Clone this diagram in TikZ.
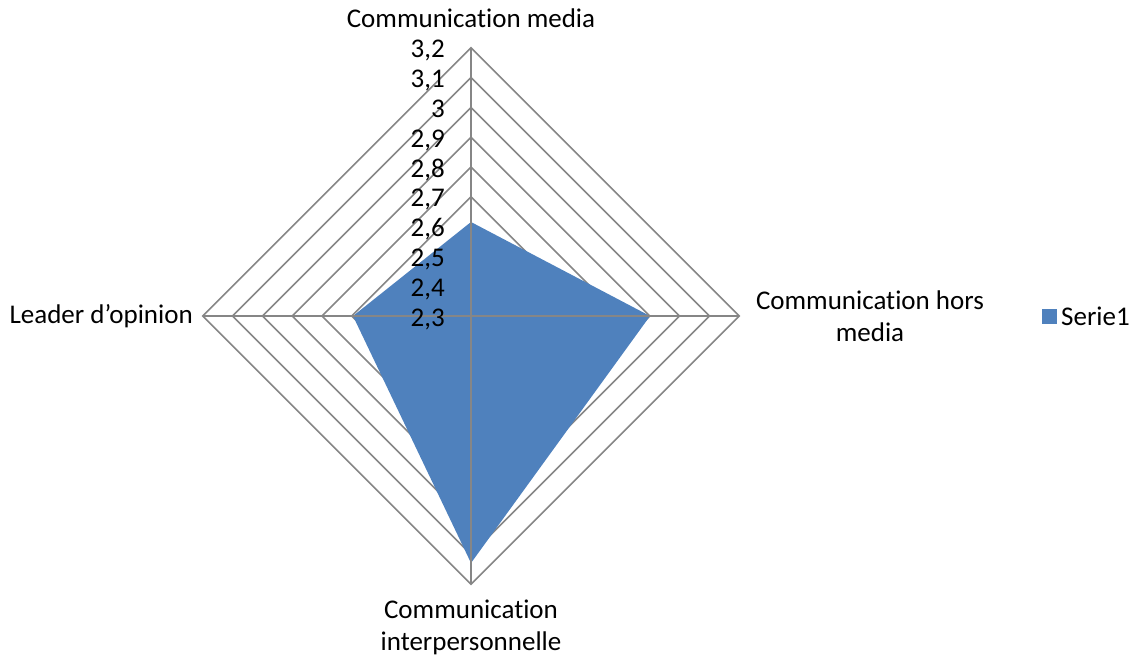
\documentclass[tikz,border=0pt]{standalone}
\usepackage{fontspec}
\setmainfont[Ligatures=CommonOff]{Carlito}
\definecolor{serieblue}{HTML}{4F81BD}
\definecolor{ringgray}{HTML}{868686}
\begin{document}
\begin{tikzpicture}[x=1pt, y=-1pt]
			\tikzstyle{ring}  = [draw=ringgray, line width=1.6pt, line join=miter]
			\tikzstyle{axislabel}  = [font=\fontsize{27}{32}\selectfont, align=center, inner sep=0pt]
			\tikzstyle{ticklabel}  = [font=\fontsize{27}{32}\selectfont, anchor=base east, inner sep=0pt]

			\useasboundingbox (0,0) rectangle (1139,661);

			\coordinate (c) at (471, 316);
			\coordinate (top) at (471, 48);
			\coordinate (right) at (739, 316);
			\coordinate (bottom) at (471, 584);
			\coordinate (left) at (203, 316);

			% rings 2,4 ... 3,2
			\foreach \r in {1,...,9}
				\draw[ring] (471, {316-\r*29.8}) -- ({471+\r*29.8}, 316) -- (471, {316+\r*29.8}) -- ({471-\r*29.8}, 316) -- cycle;

			% Serie1
			\coordinate (v1) at (471, 222);
			\coordinate (v2) at (650, 316);
			\coordinate (v3) at (471, 563);
			\coordinate (v4) at (353, 316);
			\fill[serieblue] (v1) -- (v2) -- (v3) -- (v4) -- cycle;

			\foreach \to in {top, right, bottom, left}
				\draw[ring] (c) -- (\to);

			\foreach \r/\lab in {0/{2,3}, 1/{2,4}, 2/{2,5}, 3/{2,6}, 4/{2,7}, 5/{2,8}, 6/{2,9}, 7/{3}, 8/{3,1}, 9/{3,2}}
				\node[ticklabel] (t\r) at (445, {316-\r*29.8+10}) {\lab};

			\node[axislabel] (lmedia) at (471, 18) {Communication media};
			\node[axislabel] (lhors) at (870, 316) {Communication hors\\media};
			\node[axislabel] (linter) at (471, 627) {Communication\\interpersonnelle};
			\node[axislabel, anchor=east] (lleader) at (193, 316) {Leader d’opinion};

			\node[fill=serieblue, minimum size=15pt, inner sep=0pt] (key) at (1049, 316) {};
			\node[axislabel, anchor=west] (serie) at (1061, 316) {Serie1};

		\end{tikzpicture}
\end{document}
